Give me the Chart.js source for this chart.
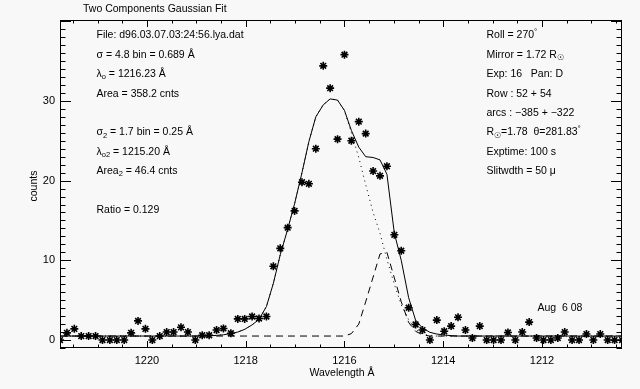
<!DOCTYPE html>
<html>
<head>
<meta charset="utf-8">
<script src="https://cdn.jsdelivr.net/npm/chart.js@4.4.0/dist/chart.umd.min.js"></script>
<style>
  html, body { margin: 0; padding: 0; background: #f8f8f8; }
  canvas { display: block; }
</style>
</head>
<body>
<canvas id="fitChart" width="640" height="389"></canvas>
<script>
// wavelength of each bin (A)
const wavelength = [
  1221.76, 1221.62, 1221.47, 1221.33, 1221.18, 1221.04, 1220.90, 1220.75, 1220.61, 1220.46,
  1220.32, 1220.18, 1220.03, 1219.89, 1219.74, 1219.60, 1219.46, 1219.31, 1219.17, 1219.02,
  1218.88, 1218.74, 1218.59, 1218.45, 1218.30, 1218.16, 1218.02, 1217.87, 1217.73, 1217.58,
  1217.44, 1217.30, 1217.15, 1217.01, 1216.86, 1216.72, 1216.58, 1216.43, 1216.29, 1216.14,
  1216.00, 1215.86, 1215.71, 1215.57, 1215.42, 1215.28, 1215.14, 1214.99, 1214.85, 1214.70,
  1214.56, 1214.42, 1214.27, 1214.13, 1213.98, 1213.84, 1213.70, 1213.55, 1213.41, 1213.26,
  1213.12, 1212.98, 1212.83, 1212.69, 1212.54, 1212.40, 1212.26, 1212.11, 1211.97, 1211.82,
  1211.68, 1211.54, 1211.39, 1211.25, 1211.10, 1210.96, 1210.82, 1210.67, 1210.53, 1210.38
];

// measured counts (asterisks)
const counts = [
  0, 0.9, 1.4, 0.5, 0.5, 0.5, 0, 0, 0, 0,
  0.9, 2.4, 1.4, 0, 0.5, 1.0, 1.0, 1.6, 1.0, 0,
  0.6, 0.6, 1.25, 1.45, 0.85, 2.65, 2.65, 2.95, 2.7, 2.95,
  9.25, 11.5, 14.1, 16.2, 19.8, 19.6, 24.0, 34.4, 31.6, 25.2,
  35.8, 25.0, 27.4, 25.9, 21.2, 20.6, 21.8, 13.2, 11.2, 4.05,
  1.95, 1.25, 0, 2.5, 1.1, 1.75, 2.85, 1.25, 0.25, 1.75,
  0, 0, 0, 0.95, 0, 1.0, 2.25, 0.25, 0, 0,
  0.25, 1.0, 0, 0, 0.75, 0, 0.75, 0, 0, 0
];

// two component fit (solid)
const fitTotal = [
  0.5, 0.5, 0.5, 0.5, 0.5, 0.5, 0.5, 0.5, 0.5, 0.5,
  0.5, 0.5, 0.5, 0.5, 0.5, 0.5, 0.5, 0.5, 0.5, 0.5,
  0.5, 0.52, 0.58, 0.66, 0.8, 1.0, 1.34, 1.9, 2.6, 4.2,
  7.1, 10.7, 13.9, 17.1, 21.0, 24.9, 28.0, 29.5, 30.25, 30.1,
  28.8, 26.3, 24.2, 23.0, 22.9, 22.6, 20.8, 13.4, 10.0, 5.3,
  2.5, 1.5, 0.97, 0.75, 0.63, 0.55, 0.5, 0.5, 0.5, 0.5,
  0.5, 0.5, 0.5, 0.5, 0.5, 0.5, 0.5, 0.5, 0.5, 0.5,
  0.5, 0.5, 0.5, 0.5, 0.5, 0.5, 0.5, 0.5, 0.5, 0.5
];

// first component + background (dotted)
const fitComp1 = [
  0.5, 0.5, 0.5, 0.5, 0.5, 0.5, 0.5, 0.5, 0.5, 0.5,
  0.5, 0.5, 0.5, 0.5, 0.5, 0.5, 0.5, 0.5, 0.5, 0.5,
  0.5, 0.52, 0.58, 0.66, 0.8, 1.0, 1.34, 1.9, 2.6, 4.2,
  7.1, 10.7, 13.9, 17.1, 21.0, 24.9, 28.0, 29.5, 30.25, 30.1,
  28.8, 26.0, 22.9, 19.5, 16.0, 13.4, 10.1, 7.0, 4.4, 2.55,
  1.35, 0.75, 0.55, 0.5, 0.5, 0.5, 0.5, 0.5, 0.5, 0.5,
  0.5, 0.5, 0.5, 0.5, 0.5, 0.5, 0.5, 0.5, 0.5, 0.5,
  0.5, 0.5, 0.5, 0.5, 0.5, 0.5, 0.5, 0.5, 0.5, 0.5
];

// second component + background (dashed)
const fitComp2 = [
  0.5, 0.5, 0.5, 0.5, 0.5, 0.5, 0.5, 0.5, 0.5, 0.5,
  0.5, 0.5, 0.5, 0.5, 0.5, 0.5, 0.5, 0.5, 0.5, 0.5,
  0.5, 0.5, 0.5, 0.5, 0.5, 0.5, 0.5, 0.5, 0.5, 0.5,
  0.5, 0.5, 0.5, 0.5, 0.5, 0.5, 0.5, 0.5, 0.5, 0.5,
  0.5, 0.8, 2.0, 4.8, 7.9, 10.8, 11.0, 7.8, 4.8, 2.2,
  1.1, 0.65, 0.5, 0.5, 0.5, 0.5, 0.5, 0.5, 0.5, 0.5,
  0.5, 0.5, 0.5, 0.5, 0.5, 0.5, 0.5, 0.5, 0.5, 0.5,
  0.5, 0.5, 0.5, 0.5, 0.5, 0.5, 0.5, 0.5, 0.5, 0.5
];

const xLabels = [1212, 1214, 1216, 1218, 1220];
const yLabels = [0, 10, 20, 30];

const leftNotes = [
  [['File: d96.03.07.03:24:56.lya.dat']],
  [['\u03c3 = 4.8 bin = 0.689 \u00c5']],
  [['\u03bb'], ['o', 'sub'], [' = 1216.23 \u00c5']],
  [['Area = 358.2 cnts']],
  null,
  [['\u03c3'], ['2', 'sub'], [' = 1.7 bin = 0.25 \u00c5']],
  [['\u03bb'], ['o2', 'sub'], [' = 1215.20 \u00c5']],
  [['Area'], ['2', 'sub'], [' = 46.4 cnts']],
  null,
  [['Ratio = 0.129']]
];
const rightNotes = [
  [['Roll = 270'], ['\u00b0', 'sup']],
  [['Mirror = 1.72 R'], ['\u2609', 'sub']],
  [['Exp: 16   Pan: D']],
  [['Row : 52 + 54']],
  [['arcs : \u2212385 + \u2212322']],
  [['R'], ['\u2609', 'sub'], ['=1.78  \u03b8=281.83'], ['\u00b0', 'sup']],
  [['Exptime: 100 s']],
  [['Slitwdth = 50 \u03bc']]
];

const FONT = '"Liberation Sans", Arial, sans-serif';

function drawParts(ctx, x, y, parts) {
  parts.forEach(p => {
    let size = 10.5, dy = 0;
    if (p[1] === 'sub') { size = 7.5; dy = 3; }
    if (p[1] === 'sup') { size = 8; dy = -4; }
    ctx.font = size + 'px ' + FONT;
    ctx.fillText(p[0], x, y + dy);
    x += ctx.measureText(p[0]).width;
  });
}

// IDL style box: inward ticks on all four sides plus the notes
const idlFrame = {
  id: 'idlFrame',
  beforeDraw(chart) {
    const ctx = chart.ctx;
    ctx.save();
    ctx.fillStyle = '#f8f8f8';
    ctx.fillRect(0, 0, chart.width, chart.height);
    ctx.restore();
  },
  afterDraw(chart) {
    const ctx = chart.ctx;
    const a = chart.chartArea;
    const xs = chart.scales.x, ys = chart.scales.y;
    ctx.save();
    ctx.strokeStyle = '#000';
    ctx.lineWidth = 1;
    ctx.strokeRect(a.left + 0.5, a.top + 0.5, a.right - a.left - 1, a.bottom - a.top - 1);

    ctx.beginPath();
    xs.ticks.forEach(t => {
      const px = Math.round(xs.getPixelForValue(t.value)) + 0.5;
      const len = xLabels.includes(t.value) ? 7 : 3.5;
      ctx.moveTo(px, a.bottom); ctx.lineTo(px, a.bottom - len);
      ctx.moveTo(px, a.top); ctx.lineTo(px, a.top + len);
    });
    ys.ticks.forEach(t => {
      const py = Math.round(ys.getPixelForValue(t.value)) + 0.5;
      const len = t.value % 10 === 0 ? 11 : 5.5;
      ctx.moveTo(a.left, py); ctx.lineTo(a.left + len, py);
      ctx.moveTo(a.right, py); ctx.lineTo(a.right - len, py);
    });
    ctx.stroke();

    ctx.fillStyle = '#000';
    ctx.textBaseline = 'middle';
    ctx.textAlign = 'left';
    drawParts(ctx, 83, 9, [['Two Components Gaussian Fit']]);
    leftNotes.forEach((n, i) => { if (n) drawParts(ctx, 96.5, 35.5 + i * 19.4, n); });
    rightNotes.forEach((n, i) => drawParts(ctx, 486.5, 35.5 + i * 19.4, n));
    drawParts(ctx, 537.5, 308, [['Aug  6 08']]);

    ctx.textAlign = 'center';
    ctx.font = '10.5px ' + FONT;
    ctx.fillText('Wavelength \u00c5', 342, 373);
    ctx.translate(34, 186);
    ctx.rotate(-Math.PI / 2);
    ctx.fillText('counts', 0, 0);
    ctx.restore();
  }
};

const toPoints = ys => wavelength.map((w, i) => ({ x: w, y: ys[i] }));

const ctx = document.getElementById('fitChart').getContext('2d');
const chart = new Chart(ctx, {
  type: 'scatter',
  data: {
    datasets: [
      {
        label: 'counts',
        data: toPoints(counts),
        showLine: false,
        pointStyle: 'star',
        pointRadius: 4,
        borderColor: '#000',
        backgroundColor: '#000',
        borderWidth: 1.6
      },
      {
        label: 'fit',
        data: toPoints(fitTotal),
        showLine: true,
        pointRadius: 0,
        borderColor: '#000',
        borderWidth: 1,
        tension: 0
      },
      {
        label: 'component 1',
        data: toPoints(fitComp1),
        showLine: true,
        pointRadius: 0,
        borderColor: '#000',
        borderWidth: 1,
        borderDash: [1, 4],
        tension: 0
      },
      {
        label: 'component 2',
        data: toPoints(fitComp2),
        showLine: true,
        pointRadius: 0,
        borderColor: '#000',
        borderWidth: 1,
        borderDash: [7, 5],
        tension: 0
      }
    ]
  },
  options: {
    responsive: false,
    animation: false,
    layout: { padding: { left: 0, top: 20, right: 18, bottom: 0 } },
    plugins: { legend: { display: false }, tooltip: { enabled: false } },
    scales: {
      x: {
        type: 'linear',
        reverse: true,
        min: 1210.38,
        max: 1221.76,
        afterFit: s => { s.height = 41; },
        afterBuildTicks: s => {
          const t = [];
          for (let v = 1210.5; v <= 1221.5; v += 0.5) t.push({ value: v });
          s.ticks = t;
        },
        ticks: {
          autoSkip: false,
          maxRotation: 0,
          padding: 6,
          color: '#000',
          font: { family: FONT, size: 11 },
          callback: v => xLabels.includes(v) ? String(v) : ''
        },
        grid: { display: false, drawTicks: false },
        border: { display: false }
      },
      y: {
        type: 'linear',
        min: -1,
        max: 40.15,
        afterFit: s => { s.width = 60; },
        afterBuildTicks: s => {
          const t = [];
          for (let v = -1; v <= 40; v += 1) t.push({ value: v });
          s.ticks = t;
        },
        ticks: {
          autoSkip: false,
          padding: 5,
          color: '#000',
          font: { family: FONT, size: 11 },
          callback: v => yLabels.includes(v) ? String(v) : ''
        },
        grid: { display: false, drawTicks: false },
        border: { display: false }
      }
    }
  },
  plugins: [idlFrame]
});
</script>
</body>
</html>
